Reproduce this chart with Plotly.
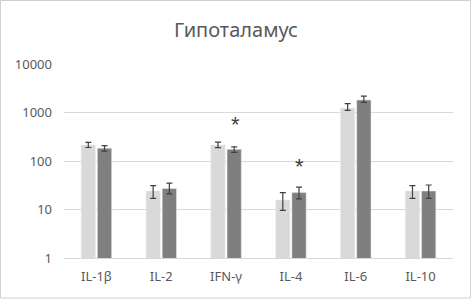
import plotly.graph_objects as go
import numpy as np

categories = ["IL-1β", "IL-2", "IFN-γ", "IL-4", "IL-6", "IL-10"]
series1_vals = [214, 24, 214, 15.7, 1230, 24]
series1_hi = [242, 31, 245, 22.3, 1520, 31]
series1_lo = [190, 17, 188, 9.6, 1110, 17]
series2_vals = [183, 27, 174, 22.3, 1810, 24]
series2_hi = [208, 35, 195, 29, 2180, 32]
series2_lo = [160, 21, 151, 16.5, 1620, 17]
star_cats = ["IFN-γ", "IL-4"]
star_y = [570, 76]

def err(vals, hi, lo):
    return dict(type="data", symmetric=False,
                array=[h - v for h, v in zip(hi, vals)],
                arrayminus=[v - l for v, l in zip(vals, lo)],
                color="#404040", thickness=1.2, width=3)

fig = go.Figure()
fig.add_trace(go.Bar(x=categories, y=series1_vals, marker_color="#d9d9d9",
                     error_y=err(series1_vals, series1_hi, series1_lo)))
fig.add_trace(go.Bar(x=categories, y=series2_vals, marker_color="#7f7f7f",
                     error_y=err(series2_vals, series2_hi, series2_lo)))

for c, y in zip(star_cats, star_y):
    fig.add_annotation(x=c, y=np.log10(y), xref="x", yref="y", text="*",
                       showarrow=False, xshift=9,
                       font=dict(size=22, color="#404040", family="Liberation Sans"))

fig.update_layout(
    width=472, height=299,
    margin=dict(l=64, r=19, t=64, b=41),
    paper_bgcolor="white", plot_bgcolor="white",
    showlegend=False,
    barmode="group", bargap=0.5, bargroupgap=0.12,
    title=dict(text="Гипоталамус", x=0.5, xanchor="center", y=1 - 29.5 / 299, yanchor="middle",
               font=dict(size=20, color="#595959", family="Noto Sans")),
    font=dict(family="Noto Sans", size=13, color="#595959"),
    shapes=[dict(type="rect", xref="paper", yref="paper", x0=-63.5/389, x1=1+17.5/389,
                 y0=-40.0/194, y1=1+63.5/194, line=dict(color="#d0d0d0", width=1))],
)
fig.update_yaxes(type="log", range=[0, 4], tickvals=[1, 10, 100, 1000, 10000],
                 ticktext=["1", "10", "100", "1000", "10000"],
                 gridcolor="#d9d9d9", gridwidth=1, zeroline=False, showline=False,
                 ticks="", ticklabelstandoff=11)
fig.update_xaxes(showline=True, linecolor="#d9d9d9", ticks="", showgrid=False,
                 ticklabelstandoff=6)

fig.write_html("out.html", config={"displayModeBar": False},
               post_script="document.body.style.margin='0';document.body.style.overflow='hidden';")
